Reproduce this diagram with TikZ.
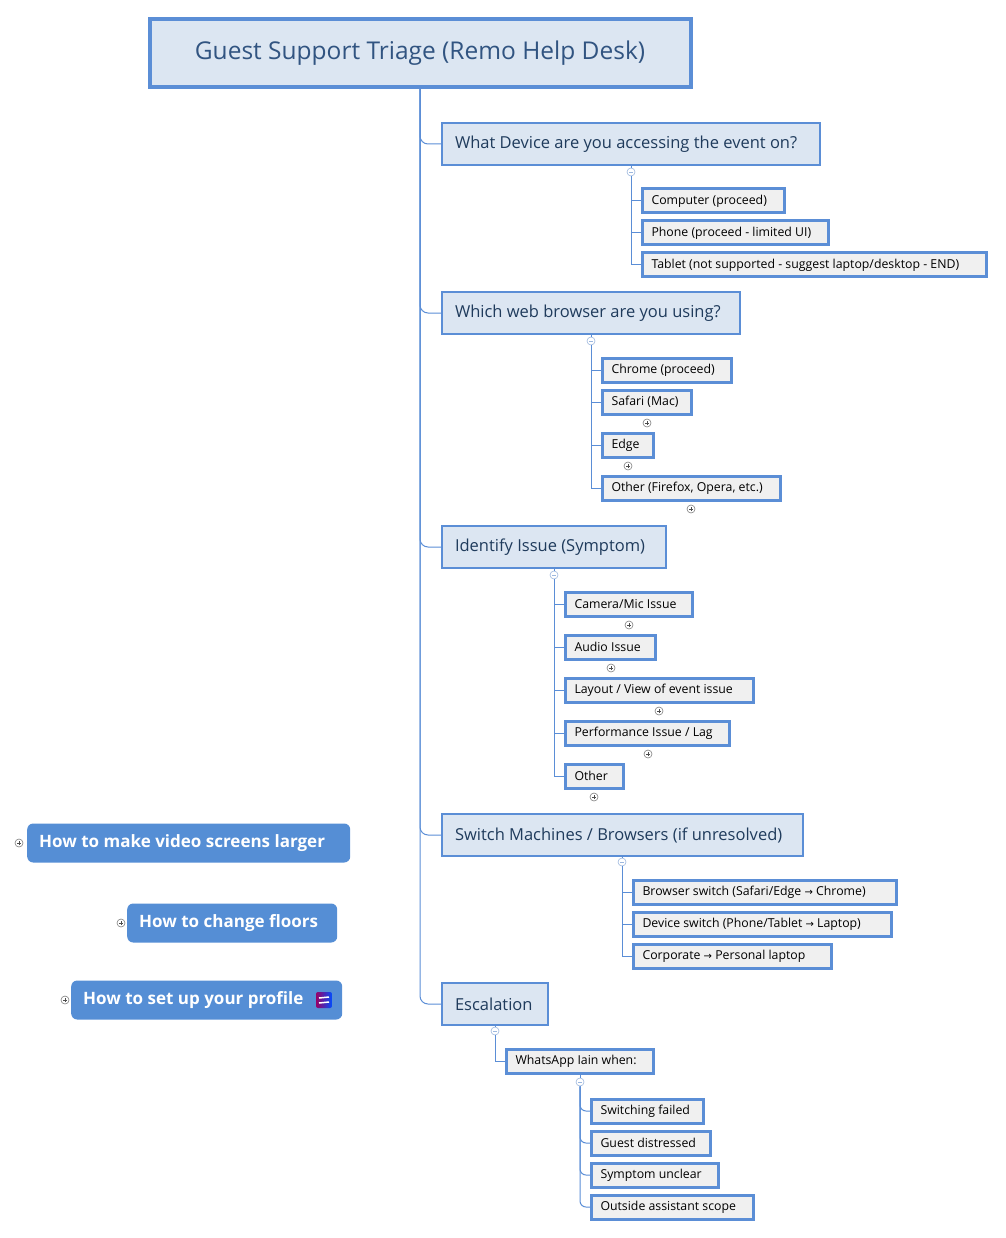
\documentclass[tikz,border=0pt]{standalone}
\usepackage{fontspec}
\setmainfont{Open Sans}
\newfontfamily\arrowfont{DejaVu Sans}
\newcommand{\rarr}{{\arrowfont\fontsize{10}{12}\selectfont →}}
\begin{document}
\begin{tikzpicture}[x=1pt,y=-1pt,
  hb/.style={execute at begin node={\hbox to \dimexpr#1\relax\bgroup},execute at end node={\hfil\egroup}},
  L1/.style={draw=bl,line width=2pt,fill=lb,anchor=west,minimum height=42pt,inner xsep=13pt,hb=#1-27pt,text=tc,font=\fontsize{16.5}{19}\selectfont},
  L2/.style={draw=bl,line width=3pt,fill=gr,anchor=west,minimum height=24pt,inner xsep=9pt,hb=#1-21pt,text=black,font=\fontsize{12.3}{14}\selectfont},
  btn/.style={fill=bt,rounded corners=6pt,anchor=west,minimum height=39pt,inner xsep=12pt,hb=#1-24pt,text=white,font=\bfseries\fontsize{17}{19}\selectfont},
  ln/.style={draw=bl,line width=1pt},
  mn/.style={circle,draw=cc,fill=white,inner sep=0pt,minimum size=8pt,line width=0.6pt,path picture={\draw[cc,line width=0.6pt](path picture bounding box.west)++(2pt,0)--++(4pt,0);}},
  pl/.style={circle,draw=gray,fill=white,inner sep=0pt,minimum size=8pt,line width=0.6pt,path picture={\draw[black!70,line width=0.6pt](path picture bounding box.center)++(-2pt,0)--++(4pt,0)(path picture bounding box.center)++(0,-2pt)--++(0,4pt);}}
]
\definecolor{bl}{HTML}{5B8ED6}
\definecolor{lb}{HTML}{DCE6F2}
\definecolor{gr}{HTML}{F0F0F0}
\definecolor{tc}{HTML}{1F3B5C}
\definecolor{bt}{HTML}{558ED5}
\definecolor{cc}{HTML}{9DB8DE}
\useasboundingbox (0,0) rectangle (1005,1238);
% title
\node[draw=bl,line width=4pt,fill=lb,minimum width=541pt,minimum height=68pt,text=tc!70!bl,font=\fontsize{24.5}{28}\selectfont] (title) at (420,53) {Guest Support Triage (Remo Help Desk)};
\coordinate (t) at (420,88);
% level 1
\node[L1=379pt] (dev) at (441,144) {What Device are you accessing the event on?};
\node[L1=299pt] (brw) at (441,313) {Which web browser are you using?};
\node[L1=225pt] (idf) at (441,547) {Identify Issue (Symptom)};
\node[L1=362pt] (sw) at (441,835) {Switch Machines / Browsers (if unresolved)};
\node[L1=107pt] (esc) at (441,1004) {Escalation};
\foreach \n in {dev,brw,idf,sw,esc} \draw[ln,rounded corners=8pt] (t) |- (\n.west);
% device
\node[mn] (c1) at (631,172) {};
\draw[ln] (dev.south -| c1) -- (c1);
\node[L2=145pt] (d1) at (641,201) {Computer (proceed)};
\node[L2=189pt] (d2) at (641,233) {Phone (proceed - limited UI)};
\node[L2=347pt] (d3) at (641,265) {Tablet (not supported - suggest laptop/desktop - END)};
\foreach \n in {d1,d2,d3} \draw[ln] (c1) |- (\n.west);
% browser
\node[mn] (c2) at (591,341) {};
\draw[ln] (brw.south -| c2) -- (c2);
\node[L2=132pt] (b1) at (601,370) {Chrome (proceed)};
\node[L2=92pt] (b2) at (601,402) {Safari (Mac)};
\node[L2=54pt] (b3) at (601,445) {Edge};
\node[L2=181pt] (b4) at (601,488) {Other (Firefox, Opera, etc.)};
\foreach \n in {b1,b2,b3,b4} \draw[ln] (c2) |- (\n.west);
\node[pl] (p1) at (647,423) {};
\node[pl] (p2) at (628,466) {};
\node[pl] (p3) at (691,509) {};
% identify
\node[mn] (c3) at (554,575) {};
\draw[ln] (idf.south -| c3) -- (c3);
\node[L2=130pt] (i1) at (564,604) {Camera/Mic Issue};
\node[L2=93pt] (i2) at (564,647) {Audio Issue};
\node[L2=191pt] (i3) at (564,690) {Layout / View of event issue};
\node[L2=167pt] (i4) at (564,733) {Performance Issue / Lag};
\node[L2=61pt] (i5) at (564,776) {Other};
\foreach \n in {i1,i2,i3,i4,i5} \draw[ln] (c3) |- (\n.west);
\node[pl] (q1) at (629,625) {};
\node[pl] (q2) at (611,668) {};
\node[pl] (q3) at (659,711) {};
\node[pl] (q4) at (648,754) {};
\node[pl] (q5) at (594,797) {};
% switch
\node[mn] (c4) at (622,862) {};
\draw[ln] (sw.south -| c4) -- (c4);
\node[L2=266pt] (s1) at (632,892) {Browser switch (Safari/Edge \rarr{} Chrome)};
\node[L2=261pt] (s2) at (632,924) {Device switch (Phone/Tablet \rarr{} Laptop)};
\node[L2=201pt] (s3) at (632,956) {Corporate \rarr{} Personal laptop};
\foreach \n in {s1,s2,s3} \draw[ln] (c4) |- (\n.west);
% escalation
\node[mn] (c5) at (495,1031) {};
\draw[ln] (esc.south -| c5) -- (c5);
\node[L2=150pt] (w) at (505,1061) {WhatsApp Iain when:};
\draw[ln] (c5) |- (w.west);
\node[mn] (c6) at (580,1082) {};
\draw[ln] (w.south -| c6) -- (c6);
\node[L2=115pt] (e1) at (590,1111) {Switching failed};
\node[L2=122pt] (e2) at (590,1143) {Guest distressed};
\node[L2=130pt] (e3) at (590,1175) {Symptom unclear};
\node[L2=165pt] (e4) at (590,1207) {Outside assistant scope};
\foreach \n in {e1,e2,e3,e4} \draw[ln,rounded corners=6pt] (c6) |- (\n.west);
% left buttons
\node[btn=323pt] (h1) at (27,843) {How to make video screens larger};
\node[btn=210pt] (h2) at (127,923) {How to change floors};
\node[btn=271pt] (h3) at (71,1000) {How to set up your profile};
\node[pl] (r1) at (19,843) {};
\node[pl] (r2) at (121,923) {};
\node[pl] (r3) at (65,1000) {};
\shade[left color=violet!80!red,right color=blue!70!cyan,rounded corners=2pt] (316,992) rectangle (332,1008);
\draw[white,line width=1.5pt] (319,998)--(329,997) (319,1003)--(329,1002);
\end{tikzpicture}
\end{document}
